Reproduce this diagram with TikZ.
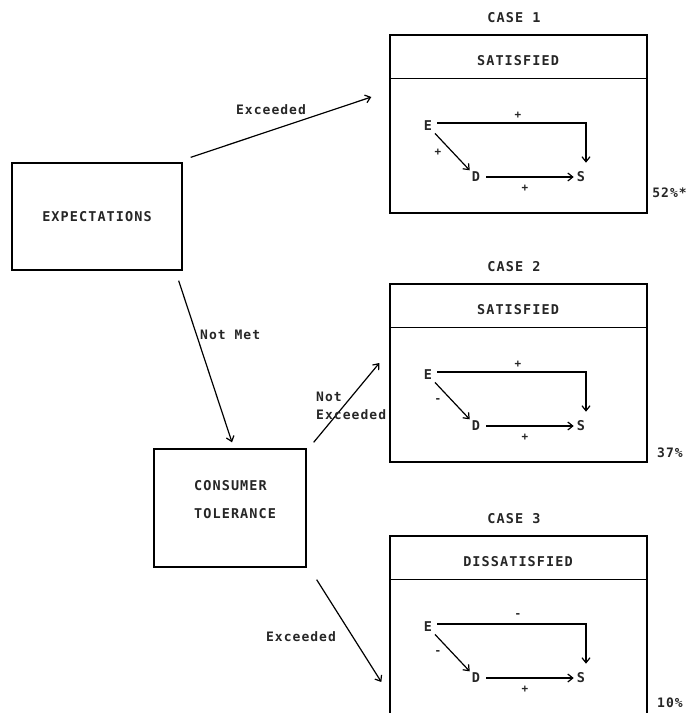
\documentclass[tikz,border=0pt]{standalone}
\usepackage{fontspec}
\newfontfamily\tw{DejaVu Sans Mono}[LetterSpace=8]
\usetikzlibrary{arrows.meta,calc}
\tikzset{
  box/.style={draw, line width=1.3pt, inner sep=0pt},
  lbl/.style={font=\tw\bfseries\fontsize{13.5}{15}\selectfont, inner sep=1pt, text=black!85},
  sml/.style={font=\tw\bfseries\fontsize{13}{15}\selectfont, inner sep=1pt, text=black!85},
  sgn/.style={font=\tw\bfseries\fontsize{11}{12}\selectfont, inner sep=0pt, text=black!85},
  arr/.style={line width=1.2pt, -{Straight Barb[length=5pt,width=8pt,line width=1.2pt]}},
}
\begin{document}
\begin{tikzpicture}[x=1pt,y=-1pt]
\useasboundingbox (0,0) rectangle (689,713);
% main boxes
\node[box, minimum width=170pt, minimum height=107pt] (exp) at (97,216.5) {};
\node[lbl] (expt) at (97,217) {EXPECTATIONS};
\node[box, minimum width=152pt, minimum height=118pt] (tol) at (230,508) {};
\node[lbl, align=left, anchor=north west] (tolt) at (193,479) {CONSUMER\\[13pt]TOLERANCE};
% case boxes
\foreach \n/\T/\cap/\ttl/\sa/\sb/\sc in
  {1/35/CASE 1/SATISFIED/+/+/+,
   2/284/CASE 2/SATISFIED/+/-/+,
   3/536/CASE 3/DISSATISFIED/-/-/+}{
  \node[box, minimum width=257pt, minimum height=178pt] (c\n) at (518.5,\T+89) {};
  \draw[line width=1.3pt] ($(c\n.north west)+(0,44)$) -- ($(c\n.north east)+(0,44)$);
  \node[lbl] (cap\n) at (514,\T-17) {\cap};
  \node[lbl] (ttl\n) at (518,\T+26) {\ttl};
  \node[lbl, inner sep=2pt] (E\n) at (428,\T+91) {E};
  \node[lbl, inner sep=2pt] (D\n) at (476,\T+142) {D};
  \node[lbl, inner sep=2pt] (S\n) at (581,\T+142) {S};
  \draw[arr] ($(E\n.east)+(3,-3)$) -| ($(S\n.north)+(5,-7)$);
  \draw[arr, shorten <=1pt] (E\n) -- (D\n);
  \draw[arr, shorten <=4pt, shorten >=1pt] (D\n) -- (S\n);
  \node[sgn] (sa\n) at (518,\T+80) {\sa};
  \node[sgn] (sb\n) at (438,\T+117) {\sb};
  \node[sgn] (sc\n) at (525,\T+153) {\sc};
}
\node[sml, anchor=east] (p1) at (688,193) {52\%*};
\node[sml, anchor=west] (p2) at (656,453) {37\%};
\node[sml, anchor=west] (p3) at (656,703) {10\%};
% connectors
\draw[arr] ($(exp.north east)+(8,-5)$) -- ($(c1.west)+(-18,-27)$);
\draw[arr] ($(exp.south east)+(-4,10)$) -- ($(tol.north)+(2,-6)$);
\draw[arr] ($(tol.north east)+(7,-6)$) -- ($(c2.west)+(-10,-10)$);
\draw[arr] ($(tol.south east)+(10,12)$) -- ($(c3.west)+(-8,57)$);
% connector labels
\node[sml] (l1) at (271,110) {Exceeded};
\node[sml, anchor=west] (l2) at (199,335) {Not Met};
\node[sml, anchor=west] (l3a) at (315,397) {Not};
\node[sml, anchor=west] (l3b) at (315,415) {Exceeded};
\node[sml] (l4) at (301,637) {Exceeded};
\end{tikzpicture}
\end{document}
